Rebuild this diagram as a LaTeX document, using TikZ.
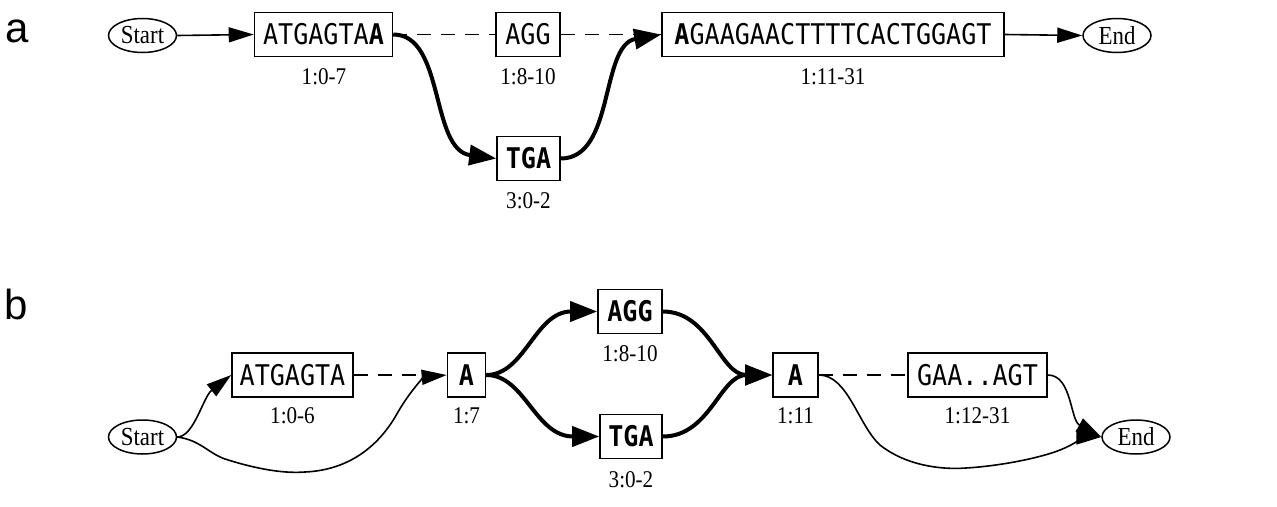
\documentclass[tikz,border=0pt]{standalone}
\usepackage{fontspec}
\usetikzlibrary{arrows.meta,shapes.geometric}
\newfontfamily\seqf[FakeStretch=0.88]{DejaVu Sans Mono}
\newfontfamily\labf[FakeStretch=0.88]{Liberation Serif}
\newfontfamily\panf{Liberation Sans}
\tikzset{
  seqbox/.style={draw, line width=1.6pt, inner sep=0pt, minimum height=44pt, font=\seqf\fontsize{28.5}{32}\selectfont},
  endpt/.style={draw, ellipse, line width=1.5pt, minimum width=68pt, minimum height=34pt, inner sep=0pt, font=\labf\fontsize{26}{30}\selectfont},
  lab/.style={inner sep=0pt, font=\labf\fontsize{24}{28}\selectfont},
  pan/.style={inner sep=0pt, anchor=base west, font=\panf\fontsize{42}{48}\selectfont},
  thinedge/.style={line width=1.6pt, -{Triangle[length=25pt,width=15pt]}},
  thickedge/.style={line width=4pt, -{Triangle[length=27pt,width=20pt]}},
  dashedge/.style={line width=1.8pt, dash pattern=on 14pt off 10pt}
}
\begin{document}
\begin{tikzpicture}[x=1pt,y=-1pt]
\useasboundingbox (0,0) rectangle (1277,506);
% panel labels
\node[pan] (pa) at (5,42) {a};
\node[pan] (pb) at (4,319) {b};
% ---------- panel a ----------
\node[endpt] (sa) at (142.5,35.5) {Start};
\node[seqbox, minimum width=138pt] (a1) at (323.5,34.5) {ATGAGTA\textbf{A}};
\node[seqbox, minimum width=64pt] (a2) at (528,34.5) {AGG};
\node[seqbox, minimum width=342pt] (a4) at (833,34.5) {\textbf{A}GAAGAACTTTTCACTGGAGT};
\node[endpt] (ea) at (1117,35.5) {End};
\node[seqbox, minimum width=63pt] (a3) at (528.5,158.5) {\textbf{TGA}};
\node[lab] (la1) at (324,77) {1:0-7};
\node[lab] (la2) at (528,77) {1:8-10};
\node[lab] (la4) at (833,77) {1:11-31};
\node[lab] (la3) at (528.5,201) {3:0-2};
\draw[thinedge] (sa.east) -- (a1.west);
\draw[dashedge] (a1.east) -- (a2.west);
\draw[dashedge] (a2.east) -- (a4.west);
\draw[thickedge] (a1.east) .. controls (445,34.5) and (430,150) .. (a3.west);
\draw[thickedge] (a3.east) .. controls (615,158.5) and (600,45) .. (a4.west);
\draw[thinedge] (a4.east) -- (ea.west);
% ---------- panel b ----------
\node[endpt] (sb) at (142.5,437) {Start};
\node[seqbox, minimum width=121pt] (b1) at (292.5,375) {ATGAGTA};
\node[seqbox, minimum width=38pt] (b2) at (466.5,375) {\textbf{A}};
\node[seqbox, minimum width=64pt] (b3) at (630,311.5) {\textbf{AGG}};
\node[seqbox, minimum width=62pt] (b4) at (631,436.5) {\textbf{TGA}};
\node[seqbox, minimum width=45pt] (b5) at (795.5,375) {\textbf{A}};
\node[seqbox, minimum width=139pt] (b6) at (977.5,375) {GAA..AGT};
\node[endpt] (eb) at (1136,437) {End};
\node[lab] (lb1) at (292.5,416) {1:0-6};
\node[lab] (lb2) at (466.5,416) {1:7};
\node[lab] (lb3) at (630,354) {1:8-10};
\node[lab] (lb4) at (631,480) {3:0-2};
\node[lab] (lb5) at (795.5,416) {1:11};
\node[lab] (lb6) at (977.5,416) {1:12-31};
\draw[thinedge] (sb.east) .. controls (194,437) and (203,397) .. (b1.west);
\draw[thinedge] (sb.east) .. controls (200,440) and (208,453) .. (225,459)
  .. controls (250,467) and (280,474) .. (305,472)
  .. controls (350,470) and (380,445) .. (398,412)
  .. controls (412,388) and (425,377) .. (b2.west);
\draw[dashedge] (b1.east) -- (b2.west);
\draw[thickedge] (b2.east) .. controls (525,375) and (535,311.5) .. (b3.west);
\draw[thickedge] (b2.east) .. controls (525,375) and (535,436.5) .. (b4.west);
\draw[thickedge] (b3.east) .. controls (710,311.5) and (720,375) .. (b5.west);
\draw[thickedge] (b4.east) .. controls (710,436.5) and (720,375) .. (b5.west);
\draw[dashedge] (b5.east) -- (b6.west);
\draw[thinedge] (b5.east) .. controls (848,375) and (858,425) .. (880,445)
  .. controls (905,465) and (940,470) .. (966,468)
  .. controls (1000,466) and (1040,458) .. (1060,450)
  .. controls (1075,444) and (1085,437) .. (eb.west);
\draw[thinedge] (b6.east) .. controls (1072,375) and (1070,420) .. (eb.west);
\end{tikzpicture}
\end{document}
